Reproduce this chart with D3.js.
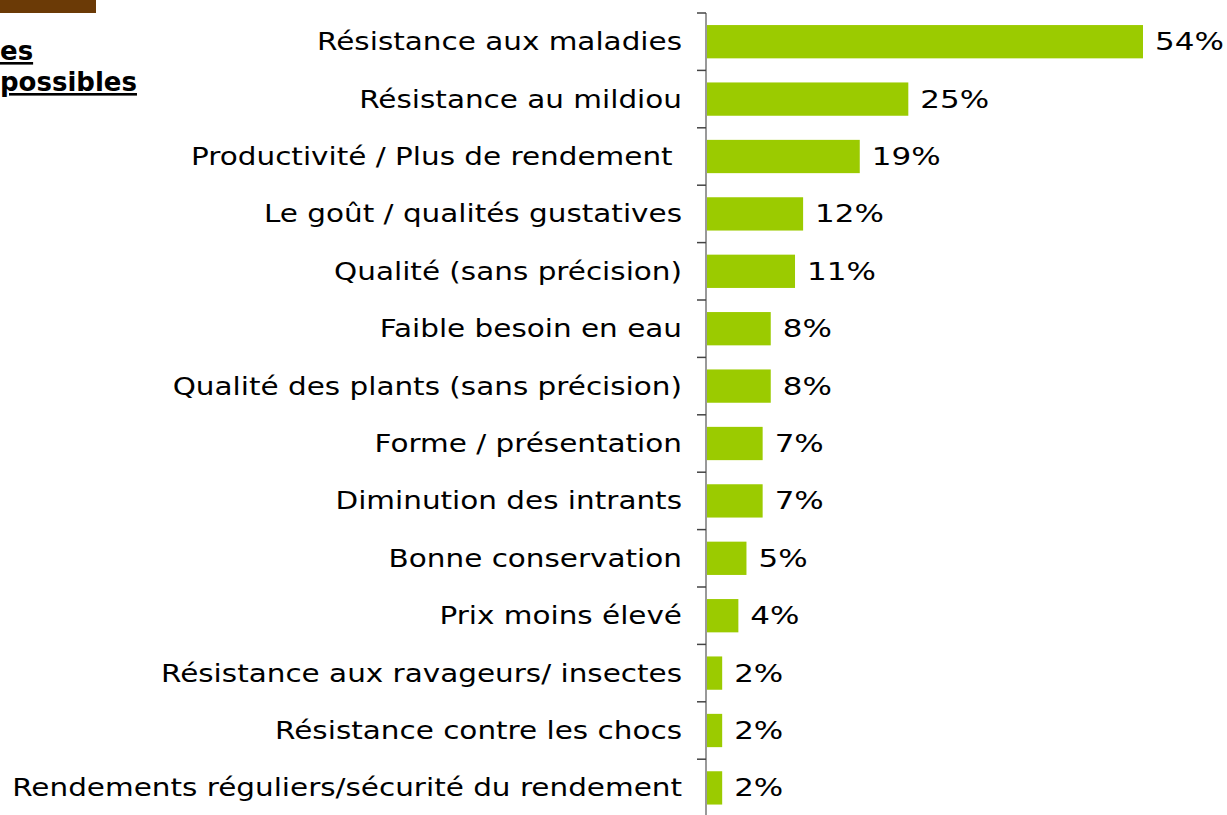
<!DOCTYPE html>
<html>
<head>
<meta charset="utf-8">
<script src="https://cdn.jsdelivr.net/npm/d3@7"></script>
<style>
  body { margin: 0; background: #fff; }
  svg text { font-family: "DejaVu Sans", Verdana, sans-serif; }
</style>
</head>
<body>
<div id="chart"></div>
<script>
// categories (top to bottom) and their shares in percent
var categories = [
  "Résistance aux maladies",
  "Résistance au mildiou",
  "Productivité / Plus de rendement ",
  "Le goût / qualités gustatives",
  "Qualité (sans précision)",
  "Faible besoin en eau",
  "Qualité des plants (sans précision)",
  "Forme / présentation",
  "Diminution des intrants",
  "Bonne conservation",
  "Prix moins élevé",
  "Résistance aux ravageurs/ insectes",
  "Résistance contre les chocs",
  "Rendements réguliers/sécurité du rendement"
];
var values = [54, 25, 19, 12, 11, 8, 8, 7, 7, 5, 4, 2, 2, 2];
var noteLines = ["es", "possibles"];

function drawGraph() {
  var W = 1227, H = 815;
  var margin = { top: 13, left: 706 };

  var svg = d3.select("#chart")
      .append("svg")
      .attr("width", W)
      .attr("height", H);

  // brown header strip, cut off at the top left
  svg.append("rect")
      .attr("x", 0).attr("y", 0)
      .attr("width", 96).attr("height", 13)
      .attr("fill", "#6b3a06");

  // clipped note text
  svg.selectAll(".note")
      .data(noteLines)
      .enter().append("text")
      .attr("class", "note")
      .attr("x", 0)
      .attr("y", (d, i) => 60 + i * 31)
      .attr("font-size", "26px")
      .attr("font-weight", "bold")
      .attr("text-decoration", "underline")
      .attr("fill", "#000")
      .text(d => d);

  var g = svg.append("g")
      .attr("transform", "translate(" + margin.left + "," + margin.top + ")");

  var x = d3.scaleLinear()
      .domain([0, 54])
      .range([0, 437]);

  var y = d3.scaleBand()
      .domain(categories)
      .range([0, 57.4 * categories.length])
      .paddingInner(0.42)
      .paddingOuter(0.21);

  // axis with tick marks between the categories
  var step = y.step();
  var tickPos = d3.range(categories.length + 1).map(i => i * step);
  g.append("line")
      .attr("x1", 0).attr("x2", 0)
      .attr("y1", 0).attr("y2", step * categories.length)
      .attr("stroke", "#777")
      .attr("stroke-width", 1.5);
  g.selectAll(".tick")
      .data(tickPos)
      .enter().append("line")
      .attr("class", "tick")
      .attr("x1", -9).attr("x2", 0)
      .attr("y1", d => d).attr("y2", d => d)
      .attr("stroke", "#444")
      .attr("stroke-width", 1.5);

  g.selectAll(".bar")
      .data(values)
      .enter().append("rect")
      .attr("class", "bar")
      .attr("x", 1)
      .attr("y", (d, i) => y(categories[i]))
      .attr("width", d => x(d) - 1)
      .attr("height", y.bandwidth())
      .attr("fill", "#9bcb00");

  // category labels (the original font is wider, so stretch horizontally)
  g.selectAll(".cat")
      .data(categories)
      .enter().append("text")
      .attr("class", "cat")
      .attr("transform", d => "translate(-24," + (y(d) + y.bandwidth() / 2) + ") scale(1.228,1)")
      .attr("dy", "0.35em")
      .attr("text-anchor", "end")
      .attr("font-size", "24px")
      .style("white-space", "pre") // keep the trailing space of one label
      .attr("fill", "#000")
      .text(d => d);

  // value labels
  g.selectAll(".val")
      .data(values)
      .enter().append("text")
      .attr("class", "val")
      .attr("transform", (d, i) => "translate(" + (x(d) + 12) + "," + (y(categories[i]) + y.bandwidth() / 2) + ") scale(1.29,1)")
      .attr("dy", "0.35em")
      .attr("font-size", "24px")
      .attr("fill", "#000")
      .text(d => d + "%");
}

window.onload = drawGraph;
</script>
</body>
</html>
